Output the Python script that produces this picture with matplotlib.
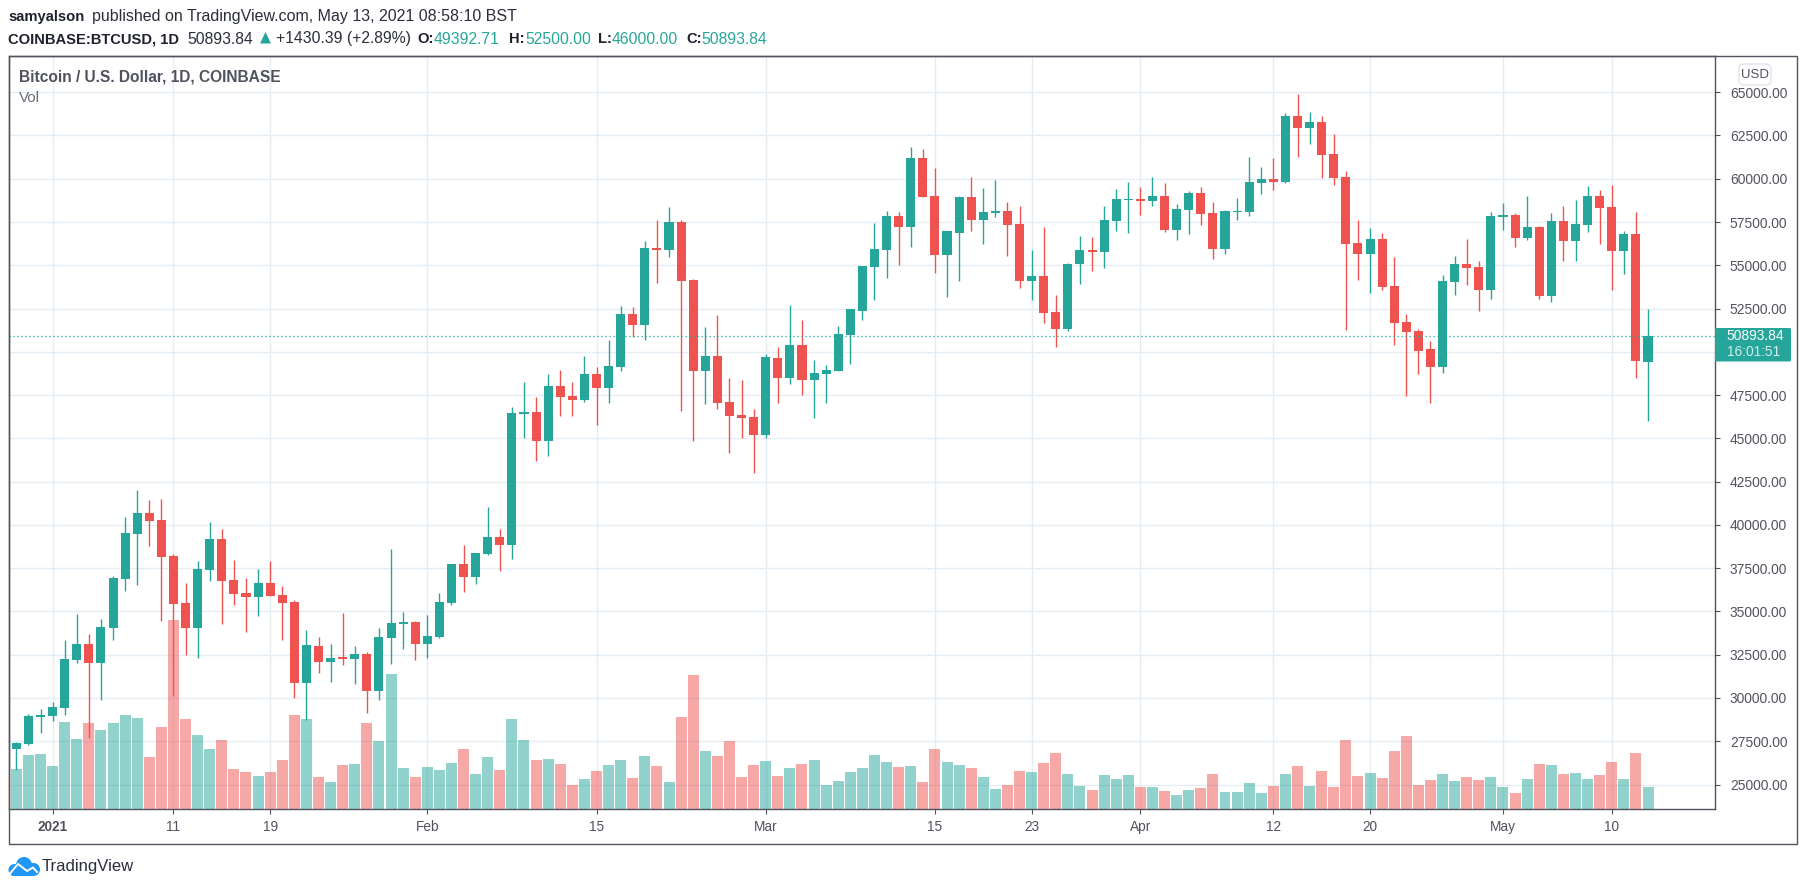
import matplotlib
matplotlib.use('Agg')
import matplotlib.pyplot as plt
import matplotlib.dates as mdates
from matplotlib.patches import Circle, FancyBboxPatch, Polygon, Rectangle
import numpy as np
import pandas as pd

# daily candles 2020-12-29 .. 2021-05-13
start_date = '2020-12-29'
end_date = '2021-05-13'

opens = [27040, 27329, 28889, 28947, 29409, 32182, 33107, 32009, 34031, 36863, 39463, 40676, 40272, 38192, 35476, 34031,
         37383, 39174, 36805, 36054, 35823, 36631, 35938, 35534, 30853, 32991, 32067, 32356, 32240, 32529, 30391, 33454,
         34262, 34378, 33107, 33511, 35476, 37729, 36978, 38307, 39289, 38827, 46397, 46513, 44837, 48015, 47437, 47206,
         48708, 47899, 49113, 52175, 51539, 55989, 55873, 57491, 54140, 48882, 49748, 47090, 46339, 46224, 45184, 49633,
         48477, 50384, 48362, 48708, 48882, 50962, 52348, 54891, 55872, 57837, 57201, 61188, 58992, 55583, 56854, 58935,
         57606, 58010, 58126, 57374, 54081, 54370, 52290, 51308, 55063, 55872, 55757, 57548, 58761, 58819, 58703, 58992,
         57028, 58183, 59166, 58010, 55930, 58068, 58068, 59743, 59975, 59801, 63615, 62921, 63268, 61419, 60090, 56277,
         55641, 56508, 53792, 51712, 51192, 50152, 49112, 54023, 55063, 54890, 53561, 57779, 57894, 56566, 57201, 53214,
         57548, 56392, 57317, 58992, 58357, 55814, 56797, 49392.71]
highs = [27444, 29062, 29351, 29756, 33338, 34840, 33685, 34551, 37036, 40445, 42005, 41427, 41485, 38307, 36631, 37903,
         40156, 39752, 37960, 36920, 37440, 37903, 36458, 35649, 33916, 33511, 33107, 34898, 32991, 32645, 34031, 38596,
         34956, 34436, 34782, 36054, 37729, 38827, 38365, 41023, 39752, 46801, 48246, 47379, 48708, 48939, 48246, 49748,
         49113, 50673, 52637, 52580, 56393, 57606, 58358, 57606, 54197, 51424, 52117, 48477, 48362, 46686, 49864, 50268,
         52695, 51828, 49517, 49228, 51482, 52464, 54949, 57433, 58126, 58068, 61824, 61708, 60610, 56970, 58992, 60090,
         59455, 59917, 58646, 58415, 55872, 57201, 53272, 55121, 56681, 56623, 58415, 59397, 59801, 59512, 60090, 59743,
         58530, 59281, 59512, 58646, 58183, 58877, 61246, 60668, 61188, 63788, 64886, 63846, 63615, 62575, 60437, 57606,
         57143, 56854, 55468, 52174, 51308, 50614, 54428, 55526, 56508, 55237, 58068, 58588, 58010, 58992, 57259, 58010,
         58415, 58761, 59570, 59339, 59628, 56970, 58068, 52500]
lows = [25827, 27271, 27964, 28658, 29004, 32009, 27676, 29871, 33338, 36169, 36516, 38769, 34436, 30102, 32471, 32298,
        36747, 34262, 35360, 33800, 34725, 35880, 33338, 29987, 28716, 31431, 30911, 31893, 30796, 29120, 29871, 31951,
        32818, 32182, 32298, 33454, 35360, 36111, 36574, 38249, 37325, 38018, 45010, 43681, 43970, 46282, 46282, 47090,
        45761, 47033, 48882, 50846, 50673, 53966, 55469, 46570, 44837, 46975, 46686, 44144, 45010, 42988, 45010, 47033,
        48130, 47495, 46166, 47033, 48882, 49286, 51828, 52984, 54254, 55005, 56046, 58935, 54543, 53157, 54081, 56970,
        56219, 57779, 55526, 53677, 52983, 51654, 50268, 51192, 53908, 54659, 54832, 56970, 56854, 57894, 58415, 56912,
        56450, 56797, 57317, 55352, 55641, 57606, 57837, 59108, 59339, 59743, 61246, 61997, 60032, 59628, 51250, 54139,
        53388, 53561, 50383, 47436, 48707, 47032, 48765, 53272, 53850, 52348, 53041, 57028, 56046, 56450, 53041, 52868,
        55237, 55237, 56912, 56219, 53561, 54485, 48476, 46000]
closes = [27387, 28947, 29004, 29467, 32240, 33107, 32009, 34089, 36920, 39520, 40676, 40214, 38134, 35418, 34031, 37440,
          39174, 36747, 35996, 35823, 36631, 35880, 35476, 30853, 33049, 32067, 32298, 32240, 32529, 30391, 33511, 34320,
          34378, 33107, 33569, 35534, 37729, 36978, 38365, 39289, 38827, 46454, 46513, 44837, 48015, 47379, 47206, 48708,
          47899, 49171, 52175, 51539, 55989, 55873, 57491, 54082, 48882, 49748, 47033, 46282, 46166, 45184, 49691, 48477,
          50384, 48362, 48766, 48939, 51019, 52464, 54949, 55931, 57837, 57201, 61188, 58935, 55583, 56970, 58935, 57606,
          58068, 58126, 57317, 54081, 54370, 52232, 51308, 55063, 55872, 55757, 57606, 58819, 58819, 58703, 58992, 57028,
          58241, 59166, 57952, 55930, 58126, 58126, 59801, 59975, 59801, 63615, 62921, 63268, 61361, 60032, 56219, 55641,
          56508, 53734, 51654, 51134, 50036, 49112, 54081, 55063, 54832, 53561, 57837, 57894, 56566, 57201, 53214, 57548,
          56392, 57374, 58992, 58299, 55814, 56797, 49459, 50893.84]

# volume in chart units, the pane has no scale of its own
volumes = [39.3, 53.3, 54.3, 42.3, 86.3, 69.3, 85.3, 78.3, 85.3, 93.3, 90.3, 51.3, 81.3, 188.3, 89.3, 73.3,
           59.3, 68.3, 39.3, 36.3, 32.3, 36.3, 48.3, 93.3, 89.3, 31.3, 26.3, 43.3, 44.3, 85.3, 67.3, 134.3,
           40.3, 31.3, 41.3, 38.3, 45.3, 59.3, 34.3, 51.3, 38.3, 89.3, 68.3, 48.3, 49.3, 44.3, 23.3, 29.3,
           37.3, 43.3, 48.3, 30.3, 52.3, 42.3, 26.3, 91.3, 133.3, 57.3, 52.3, 67.3, 31.3, 43.3, 47.3, 32.3,
           40.3, 44.3, 48.3, 23.3, 27.3, 36.3, 40.3, 53.3, 46.3, 41.3, 42.3, 26.3, 59.3, 46.3, 43.3, 40.3,
           31.3, 19.3, 23.3, 37.3, 36.3, 45.3, 55.3, 34.3, 22.3, 18.3, 33.3, 29.3, 33.3, 21.3, 21.3, 17.3,
           13.3, 18.3, 20.3, 34.3, 16.3, 16.3, 25.3, 15.3, 22.3, 34.3, 42.3, 22.3, 37.3, 21.3, 68.3, 32.3,
           35.3, 30.3, 57.3, 72.3, 23.3, 28.3, 34.3, 27.3, 31.3, 28.3, 31.3, 21.3, 15.3, 29.3, 44.3, 43.3,
           34.3, 35.3, 29.3, 33.3, 46.3, 29.3, 55.3, 21.3]

price_ticks = list(range(25000, 65001, 2500))
date_ticks = ['2021-01-01', '2021-01-11', '2021-01-19', '2021-02-01', '2021-02-15', '2021-03-01', '2021-03-15',
              '2021-03-23', '2021-04-01', '2021-04-12', '2021-04-20', '2021-05-01', '2021-05-10']
date_labels = ['2021', '11', '19', 'Feb', '15', 'Mar', '15', '23', 'Apr', '12', '20', 'May', '10']

last_price = 50893.84

# colours
UP = '#26a69a'
DOWN = '#ef5350'
GRID = '#e4edf3'
FRAME = '#50535e'
TEXT = '#50535e'

W, H = 1805, 890
# chart pane in pixels
LEFT, RIGHT, TOP, BOTTOM = 8.5, 1714.5, 55.5, 808.5
FRAME_RIGHT, FRAME_BOTTOM = 1796.5, 843.5
PRICE_MIN, PRICE_MAX = 23614, 67122
VOL_MAX = 753

plt.rcParams['font.family'] = ['Liberation Sans', 'DejaVu Sans']

fig = plt.figure(figsize=(W / 100, H / 100), dpi=100)
ax = fig.add_axes([LEFT / W, 1 - BOTTOM / H, (RIGHT - LEFT) / W, (BOTTOM - TOP) / H])

x = mdates.date2num(pd.date_range(start_date, end_date))
opens = np.array(opens)
highs = np.array(highs)
lows = np.array(lows)
closes = np.array(closes)
colors = np.where(closes >= opens, UP, DOWN)

tick_x = mdates.date2num(pd.to_datetime(date_ticks))

# volume sits at the bottom of the price scale
vol_scale = (PRICE_MAX - PRICE_MIN) / VOL_MAX
ax.bar(x, np.array(volumes) * vol_scale, width=0.91, bottom=PRICE_MIN, color=colors, alpha=0.5,
       linewidth=0, zorder=1)

# candles
ax.vlines(x, lows, highs, colors=colors, linewidth=1.0, zorder=2)
ax.bar(x, np.abs(closes - opens), width=0.75, bottom=np.minimum(opens, closes), color=colors, linewidth=0, zorder=3)

ax.axhline(last_price, color=UP, linewidth=0.9, linestyle=(0, (1, 2.2)), zorder=4)

ax.set_xlim(x[3] - 3.65, x[3] + 137.5)
ax.set_ylim(PRICE_MIN, PRICE_MAX)
ax.grid(True, color=GRID, linewidth=1.0, zorder=0)
ax.set_axisbelow(True)

ax.yaxis.tick_right()
ax.set_yticks(price_ticks)
# the last price tag covers the 50000 label in the original
ax.set_yticklabels(['' if p == 50000 else '%.2f' % p for p in price_ticks], fontsize=9.9, color=TEXT)
ax.set_xticks(tick_x)
ax.set_xticklabels(date_labels, fontsize=9.8, color=TEXT)
ax.get_xticklabels()[0].set_fontweight('bold')
ax.tick_params(axis='y', length=3.6, width=0.8, color=FRAME, pad=7.5)
ax.tick_params(axis='x', length=3.6, width=0.8, color=FRAME, pad=5)
for name, spine in ax.spines.items():
    spine.set_color(FRAME)
    spine.set_linewidth(1.0)

# overlay in pixel coordinates for everything around the chart
over = fig.add_axes([0, 0, 1, 1], zorder=5)
over.set_xlim(0, W)
over.set_ylim(H, 0)
over.axis('off')
over.patch.set_alpha(0)

over.add_patch(Rectangle((LEFT, TOP), FRAME_RIGHT - LEFT, FRAME_BOTTOM - TOP, fill=False, edgecolor=FRAME, linewidth=1.0))

# header lines
HEAD = 11.3
BOLD = 10.6
over.text(8, 17, 'samyalson', fontsize=BOLD, fontweight='bold', color='#1e222d', va='center')
over.text(92, 17, 'published on TradingView.com, May 13, 2021 08:58:10 BST', fontsize=11.5, color='#2a2e39', va='center')
over.text(8, 39, 'COINBASE:BTCUSD, 1D', fontsize=BOLD, fontweight='bold', color='#1e222d', va='center')
over.text(187, 39, '50893.84', fontsize=HEAD, color='#2a2e39', va='center')
over.add_patch(Polygon([[260, 43.5], [271, 43.5], [265.5, 32]], closed=True, color=UP, linewidth=0))
over.text(276.5, 39, '+1430.39 (+2.89%)', fontsize=HEAD, color='#2a2e39', va='center')
for lx, key, vx, val in [(417, 'O:', 434, '49392.71'), (509, 'H:', 525, '52500.00'),
                         (598, 'L:', 612, '46000.00'), (686, 'C:', 701, '50893.84')]:
    over.text(lx, 39, key, fontsize=BOLD, fontweight='bold', color='#1e222d', va='center')
    over.text(vx, 39, val, fontsize=HEAD, color=UP, va='center')

over.text(19, 76.5, 'Bitcoin / U.S. Dollar, 1D, COINBASE', fontsize=11.2, fontweight='bold', color=TEXT, va='center')
over.text(19, 98, 'Vol', fontsize=11, color='#6a6d78', va='center')

# USD box
over.add_patch(FancyBboxPatch((1741, 66), 28, 17, boxstyle='round,pad=2,rounding_size=5', facecolor='white',
                              edgecolor='#e0e3eb', linewidth=1.0))
over.text(1755, 74.5, 'USD', fontsize=9.5, color=TEXT, ha='center', va='center')

# last price tag
over.add_patch(FancyBboxPatch((1715, 328), 76, 33.5, boxstyle='round,pad=0,rounding_size=1.5', facecolor=UP,
                              edgecolor='none'))
over.text(1726.5, 336, '50893.84', fontsize=9.9, color='white', va='center')
over.text(1726.5, 352, '16:01:51', fontsize=9.9, color='#d4edeb', va='center')

# TradingView logo
LOGO = '#2196f3'
for cx, cy, r in [(14.5, 870, 6), (24, 865, 8), (33.5, 869.5, 6.5)]:
    over.add_patch(Circle((cx, cy), r, color=LOGO, linewidth=0))
over.add_patch(Rectangle((12, 869), 23, 7, color=LOGO, linewidth=0))
over.plot([10, 18, 27, 33, 37], [873.5, 864, 871, 867.5, 872], color='white', linewidth=1.4)
over.text(42, 867, 'TradingView', fontsize=12, color='#2a2e39', va='center')

fig.savefig('out.png', dpi=100)
